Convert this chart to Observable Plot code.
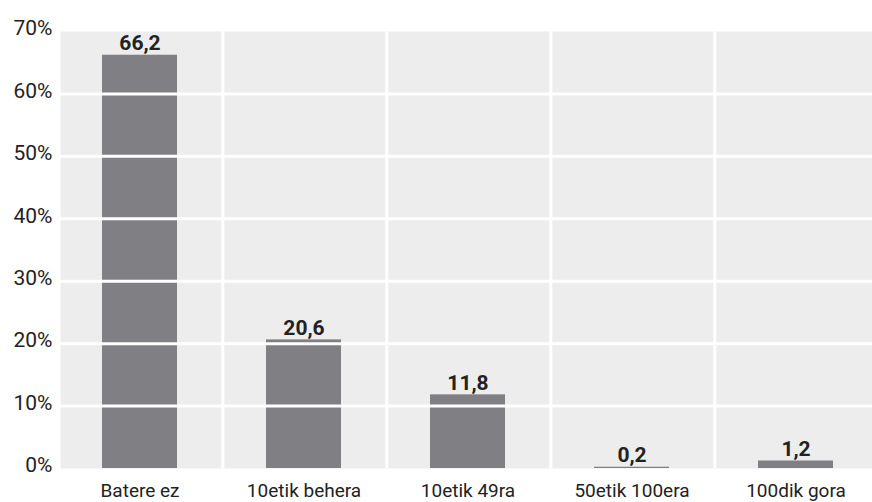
<!DOCTYPE html>
<html>
<head>
<meta charset="utf-8">
<script src="https://cdn.jsdelivr.net/npm/d3@7"></script>
<script src="https://cdn.jsdelivr.net/npm/@observablehq/plot@0.6"></script>
<style>
  html, body { margin: 0; padding: 0; background: #ffffff; overflow: hidden; }
  #chart { width: 872px; height: 502px; }
</style>
</head>
<body>
<div id="chart"></div>
<script>
const categories = ["Batere ez", "10etik behera", "10etik 49ra", "50etik 100era", "100dik gora"];
const values = [66.2, 20.6, 11.8, 0.2, 1.2];
const yTicks = [0, 10, 20, 30, 40, 50, 60, 70];

const data = categories.map((c, i) => ({category: c, value: values[i]}));
const fmt = v => v.toFixed(1).replace(".", ",");

const W = 872, H = 502;
const xRange = [57, 879];
const step = (xRange[1] - xRange[0]) / categories.length;
const FONT = "Roboto, 'Liberation Sans', Arial, sans-serif";

const chart = Plot.plot({
  width: W,
  height: H,
  marginLeft: 60,
  marginRight: 0,
  marginTop: 31,
  marginBottom: 34,
  style: {fontFamily: FONT, fontSize: "19px", color: "#222", background: "#fff"},
  x: {type: "band", domain: categories, range: xRange, paddingInner: 0.54, paddingOuter: 0.27, label: null},
  y: {domain: [0, 70], label: null},
  marks: [
    Plot.frame({fill: "#ededed", stroke: "none"}),
    Plot.ruleX(categories.slice(1), {x: d => d, dx: -step / 2 + 1, stroke: "#ffffff", strokeWidth: 3}),
    Plot.barY(data, {x: "category", y: "value", fill: "#808084"}),
    Plot.ruleY(yTicks.filter(t => t > 0 && t < 70), {stroke: "#ffffff", strokeWidth: 3}),
    Plot.text(data, {x: "category", y: "value", text: d => fmt(d.value), lineAnchor: "bottom", dy: -5, fontWeight: "bold", fontSize: 21, fill: "#222"}),
    Plot.axisY({ticks: yTicks, tickFormat: d => d + "%", tickSize: 0, tickPadding: 8, dy: -3, fontSize: 21}),
    Plot.axisX({tickSize: 0, tickPadding: 15, fontSize: 19})
  ]
});
document.getElementById("chart").appendChild(chart);
</script>
</body>
</html>
